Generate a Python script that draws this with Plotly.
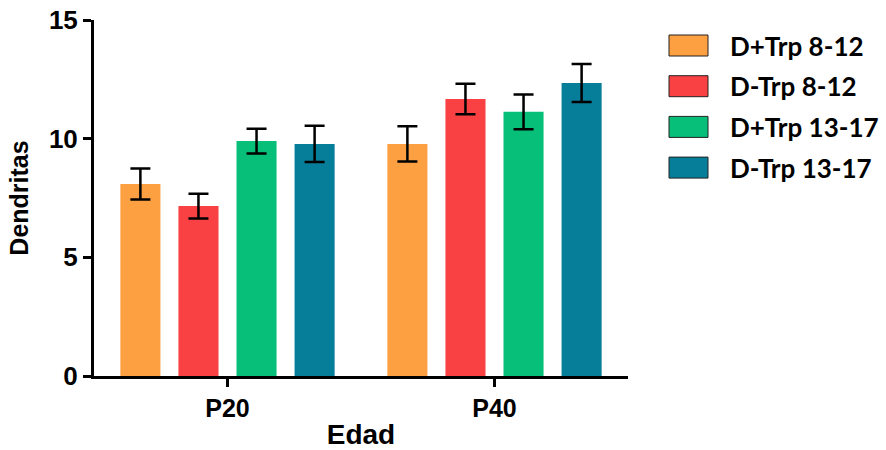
import plotly.graph_objects as go

categories = ["P20", "P40"]
series_names = ["D+Trp 8-12", "D-Trp 8-12", "D+Trp 13-17", "D-Trp 13-17"]
series_values = [
    [8.09, 9.78],
    [7.16, 11.67],
    [9.90, 11.13],
    [9.78, 12.35],
]
series_errors = [
    [0.65, 0.74],
    [0.52, 0.64],
    [0.52, 0.73],
    [0.76, 0.80],
]
colors = ["#FDA042", "#F94144", "#07BF79", "#077E99"]
y_ticks = [0, 5, 10, 15]

W, H = 886, 450
L, R, T, B = 94, 258, 20, 74
plot_w = W - L - R
plot_h = H - T - B

fig = go.Figure()
for name, vals, errs, col in zip(series_names, series_values, series_errors, colors):
    fig.add_trace(go.Bar(
        x=categories, y=vals, name=name,
        marker=dict(color=col, line=dict(width=0)),
        error_y=dict(type="data", array=errs, visible=True,
                     color="black", thickness=2.5, width=10),
        showlegend=False,
    ))

def px_to_paper_x(px):
    return (px - L) / plot_w

def px_to_paper_y(py):
    return (H - B - py) / plot_h

shapes = []
annotations = []
for i, (name, col) in enumerate(zip(series_names, colors)):
    top = 35 + i * 40.7
    bot = top + 21
    shapes.append(dict(type="rect", xref="paper", yref="paper",
                       x0=px_to_paper_x(669), x1=px_to_paper_x(708),
                       y0=px_to_paper_y(bot), y1=px_to_paper_y(top),
                       fillcolor=col, line=dict(color="#222222", width=1)))
    annotations.append(dict(xref="paper", yref="paper",
                            x=px_to_paper_x(728), y=px_to_paper_y((top + bot) / 2),
                            text="<b>" + name + "</b>", showarrow=False,
                            xanchor="left", yanchor="middle",
                            font=dict(family="Lato", size=26, color="black")))

fig.update_layout(
    width=W, height=H,
    margin=dict(l=L, r=R, t=T, b=B, pad=0, autoexpand=False),
    paper_bgcolor="white", plot_bgcolor="white",
    barmode="group", bargap=0.13, bargroupgap=0.31,
    shapes=shapes, annotations=annotations,
    font=dict(family="Liberation Sans", color="black"),
)
fig.update_yaxes(
    range=[0, 15], tickvals=y_ticks, ticktext=["<b>%d</b>" % v for v in y_ticks],
    showgrid=False, zeroline=False, automargin=False,
    showline=True, linecolor="black", linewidth=3,
    ticks="outside", ticklen=8, tickwidth=3, tickcolor="black",
    tickfont=dict(family="Liberation Sans", size=26, color="black"),
    title=dict(text="<b>Dendritas</b>", font=dict(family="Liberation Sans", size=25, color="black"), standoff=14),
)
fig.update_xaxes(
    showgrid=False, zeroline=False, automargin=False,
    tickvals=categories, ticktext=["<b>%s</b>" % c for c in categories],
    showline=True, linecolor="black", linewidth=3,
    ticks="outside", ticklen=8, tickwidth=3, tickcolor="black",
    tickfont=dict(family="Liberation Sans", size=25, color="black"),
    title=dict(text="<b>Edad</b>", font=dict(family="Liberation Sans", size=28, color="black"), standoff=6),
)

fig.write_html("out.html")
